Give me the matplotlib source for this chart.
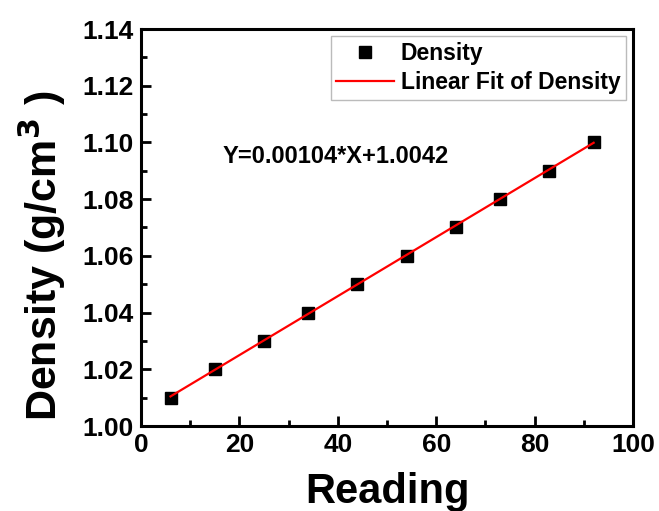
import matplotlib
matplotlib.use("Agg")
import matplotlib.pyplot as plt
import numpy as np
from matplotlib.ticker import MultipleLocator

reading = [6, 15, 25, 34, 44, 54, 64, 73, 83, 92]
density = [1.01, 1.02, 1.03, 1.04, 1.05, 1.06, 1.07, 1.08, 1.09, 1.10]
slope = 0.00104
intercept = 1.0042

plt.rcParams['font.family'] = ['Liberation Sans', 'DejaVu Sans']
plt.rcParams['font.weight'] = 'bold'

fig = plt.figure(figsize=(6.59, 5.11), dpi=100)
ax = fig.add_axes([141/659, 1-426/511, 492/659, 397/511])

ax.plot(reading, density, 's', color='black', markersize=9, label='Density', zorder=3)
xf = np.array([min(reading), max(reading)])
ax.plot(xf, slope*xf + intercept, '-', color='red', lw=1.6, label='Linear Fit of Density', zorder=4)

ax.set_xlim(0, 100)
ax.set_ylim(1.00, 1.14)
ax.xaxis.set_major_locator(MultipleLocator(20))
ax.xaxis.set_minor_locator(MultipleLocator(10))
ax.yaxis.set_major_locator(MultipleLocator(0.02))
ax.yaxis.set_minor_locator(MultipleLocator(0.01))
ax.yaxis.set_major_formatter(matplotlib.ticker.FormatStrFormatter('%.2f'))
ax.tick_params(which='major', direction='in', length=7, width=2, labelsize=19, pad=5)
ax.tick_params(which='minor', direction='in', length=4, width=2)
ax.tick_params(top=False, right=False, which='both')
for s in ax.spines.values():
    s.set_linewidth(2.2)
for lab in ax.get_xticklabels() + ax.get_yticklabels():
    lab.set_fontweight('bold')

ax.set_xlabel('Reading', fontsize=30, fontweight='bold', labelpad=11)
ax.set_ylabel('Density (g/cm$^{3}$ )', fontsize=31, fontweight='bold')
ax.yaxis.set_label_coords(-0.148, 0.43)

leg = ax.legend(loc='upper right', frameon=True, fancybox=False,
                edgecolor='#aaaaaa', borderaxespad=0.3, handlelength=2.5,
                handletextpad=0.3, borderpad=0.25, labelspacing=0.3,
                prop={'weight': 'bold', 'size': 16.5})
leg.get_frame().set_linewidth(1.0)

ax.text(0.165, 0.68, 'Y=0.00104*X+1.0042', transform=ax.transAxes, fontsize=17,
        fontweight='bold', ha='left', va='center')

fig.savefig('out.png', dpi=100)
